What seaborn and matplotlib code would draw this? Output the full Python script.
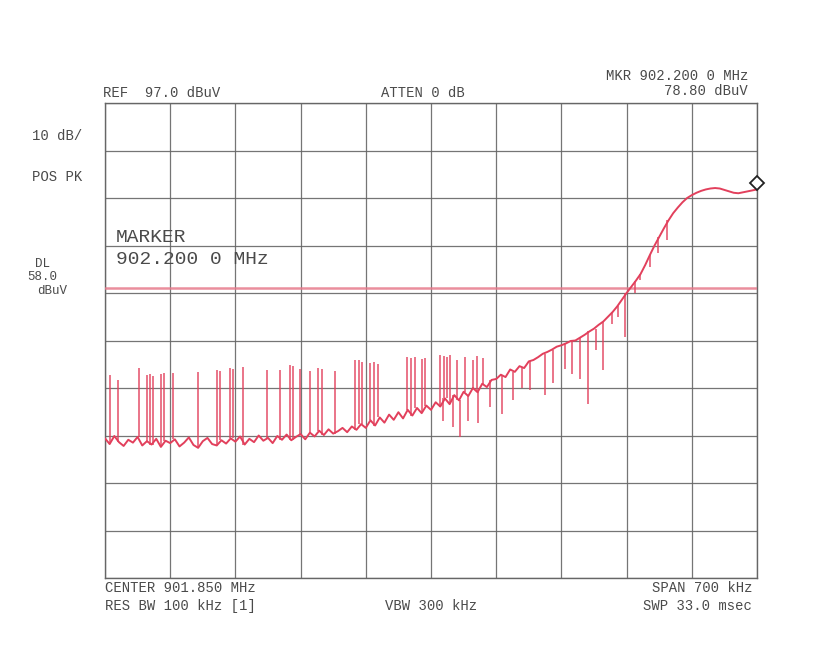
import numpy as np
import matplotlib
matplotlib.use("Agg")
import matplotlib.pyplot as plt
import matplotlib.transforms as mtransforms
import seaborn as sns

# ---------------- instrument settings ----------------
center_mhz = 901.850
span_mhz = 0.700
ref_level = 97.0
db_per_div = 10.0
display_line_db = 58.0
marker_mhz = 902.2000
marker_db = 78.80

# ---------------- trace (sweep bins, dBuV) ----------------
trace_db = [
    26.4, 25.2, 26.9, 25.6, 24.8, 26.1, 25.5, 26.7, 24.9, 25.8, 25.1, 26.3, 24.6, 25.9,
    25.4, 26.2, 24.7, 25.5, 26.6, 25.0, 24.4, 25.8, 26.5, 25.2, 24.9, 26.0, 25.3, 26.4,
    25.7, 26.8, 25.1, 26.3, 25.6, 27.0, 25.9, 26.5, 25.4, 26.9, 26.1, 27.2, 26.0, 26.7,
    27.3, 26.2, 27.6, 26.8, 28.0, 27.1, 28.3, 27.4, 27.9, 28.6, 27.7, 28.9, 28.2, 29.4,
    28.6, 30.2, 29.1, 30.8, 29.7, 31.4, 30.3, 31.9, 30.6, 32.4, 31.2, 32.8, 31.7, 33.3,
    32.4, 34.0, 33.1, 34.8, 33.6, 35.5, 34.4, 36.2, 35.3, 37.0, 36.1, 37.9, 37.2, 38.7,
    38.9, 39.8, 39.3, 40.9, 40.4, 41.6, 41.2, 42.6, 42.9, 43.5, 44.2, 44.6, 45.1, 45.7,
    46.0, 46.4, 46.9, 47.0, 47.6, 48.2, 48.9, 49.5, 50.3, 51.0, 52.0, 53.0, 54.2, 55.6,
    57.0, 58.3, 59.6, 61.0, 62.9, 65.0, 67.0, 68.8, 70.6, 72.3, 73.8, 75.0, 76.1, 77.0,
    77.6, 78.1, 78.5, 78.8, 79.0, 79.1, 79.0, 78.7, 78.4, 78.1, 78.0, 78.2, 78.4, 78.6, 78.8,
]

# upward spikes (frequency MHz, peak dBuV)
spike_up_mhz = [
    901.505, 901.514, 901.537, 901.545, 901.548, 901.552, 901.560, 901.563, 901.573,
    901.600, 901.620, 901.623, 901.634, 901.637, 901.648, 901.674, 901.688, 901.699,
    901.702, 901.709, 901.720, 901.729, 901.733, 901.747, 901.768, 901.773, 901.776,
    901.785, 901.789, 901.793, 901.824, 901.829, 901.833, 901.840, 901.844, 901.860,
    901.864, 901.867, 901.870, 901.878, 901.886, 901.895, 901.899, 901.906,
]
spike_up_db = [
    39.7, 38.7, 41.2, 39.7, 39.9, 39.6, 40.0, 40.1, 40.2,
    40.4, 40.8, 40.6, 41.2, 41.0, 41.4, 40.8, 40.8, 41.8,
    41.6, 41.0, 40.6, 41.2, 41.0, 40.6, 42.9, 42.8, 42.5,
    42.3, 42.5, 42.1, 43.5, 43.4, 43.6, 43.2, 43.3, 44.0,
    43.8, 43.5, 43.9, 43.0, 43.5, 43.0, 43.7, 43.4,
]

# downward spikes (frequency MHz, dip dBuV)
spike_dn_mhz = [
    901.863, 901.874, 901.881, 901.890, 901.900, 901.913, 901.926, 901.938, 901.948,
    901.956, 901.972, 901.981, 901.994, 902.001, 902.010, 902.019, 902.027, 902.035,
    902.044, 902.051, 902.058, 902.069, 902.074, 902.085, 902.094, 902.103,
]
spike_dn_db = [
    30.0, 28.8, 26.7, 30.0, 29.6, 33.0, 31.5, 34.5, 37.0,
    36.6, 35.5, 38.0, 41.0, 40.0, 39.0, 33.6, 45.0, 40.8,
    50.5, 52.0, 47.7, 57.0, 59.7, 62.5, 65.4, 68.2,
]

# ---------------- annotation texts ----------------
txt_ref = "REF  97.0 dBuV"
txt_atten = "ATTEN 0 dB"
txt_mkr = "MKR 902.200 0 MHz"
txt_mkr_lvl = "78.80 dBuV"
txt_scale = "10 dB/"
txt_det = "POS PK"
txt_dl = ["DL", "58.0", "dBuV"]
txt_marker = "MARKER"
txt_marker_f = "902.200 0 MHz"
txt_center = "CENTER 901.850 MHz"
txt_rbw = "RES BW 100 kHz [1]"
txt_vbw = "VBW 300 kHz"
txt_span = "SPAN 700 kHz"
txt_swp = "SWP 33.0 msec"

# ---------------- style ----------------
sns.set_style("white")
plt.rcParams["font.family"] = ["Liberation Mono", "DejaVu Sans Mono"]

W, H = 817, 656
fig = plt.figure(figsize=(W / 100, H / 100), dpi=100)
fig.patch.set_facecolor("white")

ax_l, ax_r, ax_t, ax_b = 105, 757, 103, 578
ax = fig.add_axes([ax_l / W, 1 - ax_b / H, (ax_r - ax_l) / W, (ax_b - ax_t) / H])

f_start = center_mhz - span_mhz / 2
f_stop = center_mhz + span_mhz / 2
n = len(trace_db)
freqs = f_start + span_mhz * np.arange(n) / (n - 1)
trace = np.asarray(trace_db)

trace_col = "#e2405c"
grid_col = "#666666"

ax.set_xlim(f_start, f_stop)
ax.set_ylim(ref_level - 10 * db_per_div, ref_level)
ax.set_xticks(np.linspace(f_start, f_stop, 11))
ax.set_yticks(np.arange(ref_level - 10 * db_per_div, ref_level + 0.1, db_per_div))
ax.tick_params(length=0, labelbottom=False, labelleft=False)
ax.grid(True, color=grid_col, lw=0.9, alpha=0.9)
for s in ax.spines.values():
    s.set_color(grid_col)
    s.set_linewidth(1.0)
ax.set_xlabel("")
ax.set_ylabel("")

# display line
ax.axhline(display_line_db, color="#e77a8c", lw=1.8, alpha=0.85, zorder=3)

# spikes
def nearest_idx(f):
    return np.clip(np.rint((np.asarray(f) - f_start) / span_mhz * (n - 1)).astype(int), 0, n - 1)

up_foot = trace[nearest_idx(spike_up_mhz)]
dn_foot = trace[nearest_idx(spike_dn_mhz)]
ax.vlines(spike_up_mhz, up_foot, spike_up_db, color=trace_col, lw=1.2, alpha=0.85, zorder=4)
ax.vlines(spike_dn_mhz, dn_foot, spike_dn_db, color=trace_col, lw=1.2, alpha=0.85, zorder=4)

# trace
sns.lineplot(x=freqs, y=trace, ax=ax, color=trace_col, lw=1.4, estimator=None,
             sort=False, zorder=5)

# marker diamond (drawn just above the trace end)
off = mtransforms.ScaledTranslation(0, 0.06, fig.dpi_scale_trans)
ax.plot([marker_mhz], [marker_db], marker="D", ms=7, mfc="white", mec="#222222",
        mew=1.3, clip_on=False, transform=ax.transData + off, zorder=6)

# ---------------- texts ----------------
tcol = "#4a4a4a"

def ftext(px, py, s, ha="left", size=10, **kw):
    fig.text(px / W, 1 - py / H, s, ha=ha, va="center", fontsize=size, color=tcol, **kw)

ftext(103, 93, txt_ref)
ftext(423, 93, txt_atten, ha="center")
ftext(748, 76, txt_mkr, ha="right")
ftext(748, 91, txt_mkr_lvl, ha="right")
ftext(32, 136, txt_scale)
ftext(32, 177, txt_det)
ftext(43, 264, txt_dl[0], ha="center", size=9)
ftext(42, 277, txt_dl[1], ha="center", size=9)
ftext(52, 291, txt_dl[2], ha="center", size=9)
ftext(116, 237, txt_marker, size=14)
ftext(116, 260, txt_marker_f, size=14)
ftext(105, 588, txt_center)
ftext(105, 606, txt_rbw)
ftext(385, 606, txt_vbw)
ftext(752, 588, txt_span, ha="right")
ftext(752, 606, txt_swp, ha="right")

fig.savefig("out.png", dpi=100, facecolor="white")
